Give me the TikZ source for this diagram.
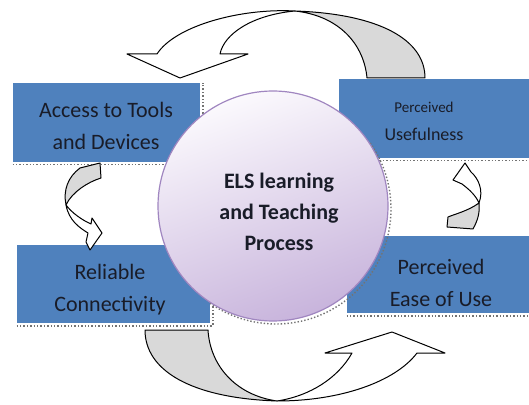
\documentclass[tikz,border=0pt]{standalone}
\usepackage{fontspec}
\setmainfont{Carlito}
\definecolor{boxblue}{RGB}{79,129,189}
\definecolor{lilac}{RGB}{200,180,220}
\definecolor{paper}{RGB}{251,249,253}
\definecolor{rimpurple}{RGB}{160,134,192}
\definecolor{inkdark}{RGB}{25,28,40}

\begin{document}
\begin{tikzpicture}[x=0.5pt, y=-0.5pt,
  box/.style={fill=boxblue, rectangle, inner sep=0pt},
  boxtext/.style={align=center, text=inkdark, font=\fontsize{11}{16}\selectfont},
  shadowline/.style={densely dotted, black!55, line width=0.7pt},
  backside/.style={draw=black, line width=0.5pt, fill=gray!30, line join=round},
  frontside/.style={draw=black, line width=0.5pt, fill=white, line join=round}]
  \useasboundingbox (0,0) rectangle (529,405);

  % the four boxes
  \node[box, minimum width=93.5pt, minimum height=39.5pt] (access) at (106.5,122.5) {};
  \node[box, minimum width=96.5pt, minimum height=39pt] (connect) at (113.5,284) {};
  \node[box, minimum width=95pt, minimum height=39.5pt] (useful) at (434,118.5) {};
  \node[box, minimum width=91pt, minimum height=38.5pt] (ease) at (438,274.5) {};
  \draw[shadowline] ([yshift=-1.2pt]access.south west) -- ([xshift=1.2pt,yshift=-1.2pt]access.south east) -- ([xshift=1.2pt]access.north east);
  \draw[shadowline] ([yshift=-1.2pt]connect.south west) -- ([xshift=1.2pt,yshift=-1.2pt]connect.south east) -- ([xshift=1.2pt]connect.north east);
  \draw[shadowline] ([yshift=-1.2pt]useful.south west) -- ([yshift=-1.2pt]useful.south east);
  \draw[shadowline] ([yshift=-1.2pt]ease.south west) -- ([yshift=-1.2pt]ease.south east);

  \node[boxtext] (accesstxt) at (106,126) {Access to Tools\\and Devices};
  \node[boxtext] (connecttxt) at (110,290) {Reliable\\Connectivity};
  \node[boxtext, font=\fontsize{9}{14}\selectfont] (usefultxt) at (424,121) {{\fontsize{7.5}{14}\selectfont Perceived}\\Usefulness};
  \node[boxtext] (easetxt) at (441,283) {Perceived\\Ease of Use};

  % centre circle
  \draw[shadowline] (276,209) ++(-35:115) arc[start angle=-35, end angle=125, radius=115];
  \node[circle, minimum size=115pt, draw=rimpurple, line width=0.6pt,
        top color=paper, bottom color=lilac, shading angle=20] (els) at (273,206) {};
  \node[align=center, text=inkdark, font=\bfseries\fontsize{11}{15.5}\selectfont] (elstxt) at (279,212) {ELS learning\\and Teaching\\Process};

  % top arrow, usefulness back to access
  \draw[backside] (367,78) .. controls (364,45) and (340,16) .. (295,11)
    .. controls (380,14) and (425,40) .. (425,78) -- cycle;
  \draw[frontside] (295,11) .. controls (240,8) and (175,26) .. (157,54)
    -- (127,54) -- (180,78) -- (248,54) -- (220,54)
    .. controls (224,34) and (252,15) .. (295,11) -- cycle;

  % bottom arrow, connectivity on to ease of use
  \draw[backside] (145,330) -- (208,330) .. controls (210,365) and (235,395) .. (277,401)
    .. controls (190,398) and (145,370) .. (145,330) -- cycle;
  \draw[frontside] (277,401) .. controls (340,401) and (395,382) .. (417,353)
    -- (445,353) -- (392,332) -- (325,353) -- (352,353)
    .. controls (338,378) and (310,396) .. (277,401) -- cycle;

  % small left arrow
  \draw[backside] (80,168) -- (100,163) -- (101,178) .. controls (88,182) and (72,192) .. (66,205)
    .. controls (63,190) and (68,177) .. (80,168) -- cycle;
  \draw[frontside] (66,205) .. controls (69,221) and (80,228) .. (88,233)
    -- (86,242) -- (90,250) -- (102,233) -- (92,218) -- (91,224)
    .. controls (82,220) and (72,213) .. (66,205) -- cycle;

  % small right arrow
  \draw[backside] (447,227) -- (473,229) .. controls (478,220) and (480,212) .. (479,203)
    .. controls (468,211) and (455,214) .. (448,217) -- cycle;
  \draw[frontside] (479,203) .. controls (484,190) and (478,178) .. (471,172)
    -- (465,163) -- (453,180) -- (462,184)
    .. controls (470,190) and (476,196) .. (479,203) -- cycle;
\end{tikzpicture}
\end{document}
